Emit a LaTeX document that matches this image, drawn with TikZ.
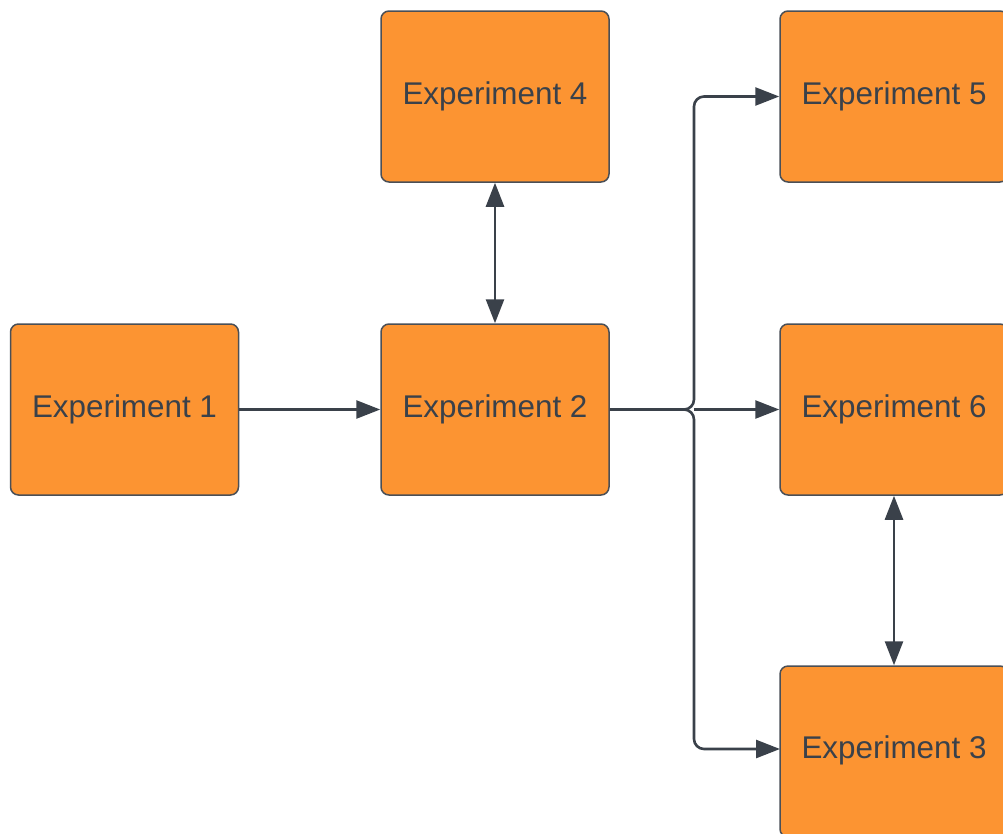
\documentclass[tikz,border=0pt]{standalone}
\usepackage{fontspec}
\setmainfont{Liberation Sans}
\usetikzlibrary{arrows.meta}
\definecolor{boxfill}{HTML}{FC9432}
\definecolor{boxedge}{HTML}{4A4F56}
\definecolor{ink}{HTML}{3A414A}
\tikzset{
  labelfont/.style={text=ink, font=\fontsize{31.4}{36}\selectfont},
  expbox/.style={draw=boxedge, line width=1.5pt, fill=boxfill, rounded corners=8pt,
    minimum width=228pt, minimum height=171pt, inner sep=0pt, labelfont},
  link/.style={draw=ink, line width=2.6pt, rounded corners=10pt},
  onehead/.style={link, -{Triangle[length=24pt,width=18pt]}},
  twohead/.style={link, {Triangle[length=24pt,width=18pt]}-{Triangle[length=24pt,width=18pt]}}
}
\begin{document}
\begin{tikzpicture}[x=1pt,y=-1pt]
  \useasboundingbox (0,0) rectangle (1003,833);
  \clip (0,0) rectangle (1003,833);
  % experiment boxes
  \node[expbox] (e1) at (124.5,409.5) {Experiment 1};
  \node[expbox] (e2) at (495,409.5) {Experiment 2};
  \node[expbox] (e4) at (495,96.5) {Experiment 4};
  \node[expbox] (e5) at (894,96.5) {Experiment 5};
  \node[expbox] (e6) at (894,409.5) {Experiment 6};
  \node[expbox] (e3) at (894,751.5) {};
  \node[labelfont] (t3) at (894,750) {Experiment 3};
  % fork point of the branches leaving Experiment 2, and entry into Experiment 3
  \coordinate (fork) at (694,409.5);
  \coordinate (in3) at (780,749);
  % connectors
  \draw[onehead] (e1.east) -- (e2.west);
  \draw[twohead] (e4.south) -- (e2.north);
  \draw[twohead] (e6.south) -- (e3.north);
  \draw[onehead] (e2.east) -- (fork) |- (e5.west);
  \draw[onehead] (e2.east) -- (fork) |- (in3);
  \draw[onehead] (fork) -- (e6.west);
\end{tikzpicture}
\end{document}
